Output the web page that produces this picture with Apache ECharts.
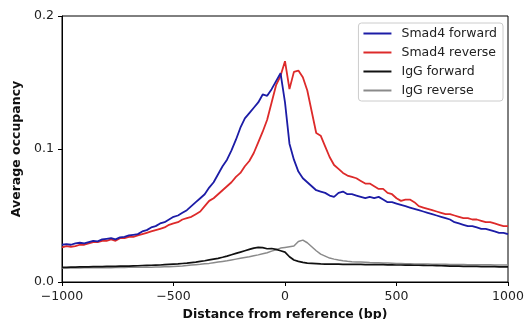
<!DOCTYPE html>
<html>
<head>
<meta charset="utf-8">
<script src="https://cdn.jsdelivr.net/npm/echarts@6/dist/echarts.min.js"></script>
<style>html,body{margin:0;padding:0;background:#fff}#c{width:525px;height:319px}</style>
</head>
<body>
<div id="c"></div>
<script>
const xValues = [-1000,-980,-960,-940,-920,-900,-880,-860,-840,-820,-800,-780,-760,-740,-720,-700,-680,-660,-640,-620,-600,-580,-560,-540,-520,-500,-480,-460,-440,-420,-400,-380,-360,-340,-320,-300,-280,-260,-240,-220,-200,-180,-160,-140,-120,-100,-80,-60,-40,-20,0,20,40,60,80,100,120,140,160,180,200,220,240,260,280,300,320,340,360,380,400,420,440,460,480,500,520,540,560,580,600,620,640,660,680,700,720,740,760,780,800,820,840,860,880,900,920,940,960,980,1000];

const smad4Forward = [0.028,0.0285,0.028,0.029,0.0295,0.029,0.030,0.031,0.0305,0.032,0.0325,
0.033,0.032,0.0335,0.034,0.035,0.0355,0.036,0.038,0.039,0.041,
0.042,0.044,0.045,0.047,0.049,0.050,0.052,0.054,0.057,0.060,
0.063,0.066,0.071,0.075,0.081,0.087,0.092,0.099,0.107,0.116,
0.123,0.127,0.131,0.135,0.141,0.140,0.145,0.151,0.157,0.135,
0.104,0.092,0.083,0.078,0.075,0.072,0.069,0.068,0.067,0.065,
0.064,0.067,0.068,0.066,0.066,0.065,0.064,0.063,0.064,0.063,
0.064,0.062,0.060,0.060,0.059,0.058,0.057,0.056,0.055,0.054,
0.053,0.052,0.051,0.050,0.049,0.048,0.047,0.045,0.044,0.043,
0.042,0.042,0.041,0.040,0.040,0.039,0.038,0.037,0.037,0.036];

const smad4Reverse = [0.026,0.027,0.0265,0.027,0.028,0.028,0.029,0.030,0.030,0.031,0.031,
0.032,0.031,0.033,0.033,0.034,0.034,0.035,0.036,0.037,0.038,
0.039,0.040,0.041,0.043,0.044,0.045,0.047,0.048,0.049,0.051,
0.053,0.057,0.061,0.063,0.066,0.069,0.072,0.075,0.079,0.082,
0.087,0.091,0.097,0.105,0.113,0.122,0.135,0.148,0.155,0.166,
0.145,0.158,0.159,0.154,0.144,0.128,0.112,0.110,0.102,0.094,
0.088,0.085,0.082,0.080,0.079,0.078,0.076,0.074,0.074,0.072,
0.070,0.070,0.067,0.066,0.063,0.061,0.062,0.062,0.060,0.057,
0.056,0.055,0.054,0.053,0.052,0.051,0.051,0.050,0.049,0.048,
0.048,0.047,0.047,0.046,0.045,0.045,0.044,0.043,0.042,0.042];

const iggForward = [0.011,0.011,0.0112,0.0112,0.0113,0.0113,0.0114,0.0115,0.0115,0.0116,0.0117,
0.0118,0.0118,0.0119,0.012,0.012,0.0121,0.0122,0.0124,0.0125,0.0126,
0.0127,0.0128,0.013,0.0132,0.0134,0.0136,0.0139,0.0142,0.0146,0.015,
0.0155,0.016,0.0166,0.0172,0.0178,0.0186,0.0195,0.0205,0.0215,0.0225,
0.0235,0.0245,0.0255,0.026,0.0258,0.025,0.0252,0.0245,0.0235,0.0225,
0.019,0.0165,0.0155,0.0147,0.0142,0.014,0.0138,0.0136,0.0135,0.0135,
0.0134,0.0134,0.0133,0.0133,0.0133,0.0132,0.0132,0.0131,0.0131,0.013,
0.013,0.013,0.0129,0.0129,0.0128,0.0128,0.0127,0.0127,0.0126,0.0126,
0.0125,0.0124,0.0124,0.0123,0.0122,0.0121,0.012,0.012,0.0119,0.0118,
0.0118,0.0117,0.0117,0.0116,0.0116,0.0115,0.0115,0.0114,0.0114,0.0113];

const iggReverse = [0.0105,0.0105,0.0106,0.0106,0.0106,0.0107,0.0107,0.0107,0.0108,0.0108,0.0108,
0.0108,0.0109,0.0109,0.0109,0.011,0.011,0.011,0.011,0.0111,0.0111,
0.0112,0.0113,0.0114,0.0115,0.0117,0.0119,0.0121,0.0124,0.0127,0.013,
0.0133,0.0137,0.014,0.0145,0.015,0.0155,0.016,0.0166,0.0172,0.0178,
0.0184,0.019,0.0197,0.0204,0.0212,0.022,0.0232,0.0243,0.0255,0.026,
0.0265,0.027,0.0305,0.0315,0.0295,0.0265,0.0235,0.021,0.0195,0.018,
0.0172,0.0165,0.016,0.0156,0.0153,0.0151,0.015,0.0148,0.0146,0.0145,
0.0144,0.0143,0.0142,0.0141,0.014,0.0139,0.0138,0.0137,0.0136,0.0136,
0.0135,0.0135,0.0134,0.0134,0.0133,0.0133,0.0132,0.0132,0.0131,0.0131,
0.013,0.013,0.013,0.0129,0.0129,0.0129,0.0128,0.0128,0.0128,0.0128];

const seriesNames = ['Smad4 forward','Smad4 reverse','IgG forward','IgG reverse'];
const seriesValues = [smad4Forward, smad4Reverse, iggForward, iggReverse];
const seriesColors = ['#1c1ca6','#dd2a2a','#111111','#8a8a8a'];
const seriesWidths = [1.8,1.8,1.7,1.5];

const font = 'DejaVu Sans';
const chart = echarts.init(document.getElementById('c'), null, {renderer:'canvas'});
chart.setOption({
  animation: false,
  grid: {left: 62, right: 17, top: 16, bottom: 37, containLabel: false, outerBoundsMode: 'none',
    show: true, borderColor: '#000', borderWidth: 1, backgroundColor: 'transparent'},
  legend: {
    orient: 'vertical', right: 22, top: 23,
    data: seriesNames,
    icon: 'rect', itemWidth: 28, itemHeight: 2, itemGap: 4,
    padding: [3, 6, 3, 5],
    borderColor: '#cccccc', borderWidth: 1, borderRadius: 3,
    backgroundColor: '#fff',
    textStyle: {fontFamily: font, fontSize: 12.5, color: '#222', padding: [0,0,0,5], lineHeight: 15}
  },
  xAxis: {
    type: 'value', min: -1000, max: 1000, interval: 500,
    name: 'Distance from reference (bp)', nameLocation: 'middle', nameGap: 25,
    nameTextStyle: {fontFamily: font, fontSize: 12.5, fontWeight: 'bold', color: '#111'},
    axisLine: {show: true, onZero: false, lineStyle: {color: '#000', width: 1}},
    axisTick: {show: true, length: 4, lineStyle: {color: '#000'}},
    axisLabel: {fontFamily: font, fontSize: 12.5, color: '#222', margin: 8,
      formatter: v => v < 0 ? '\u2212' + Math.abs(v) : String(v)},
    splitLine: {show: false}
  },
  yAxis: {
    type: 'value', min: 0, max: 0.2, interval: 0.1,
    name: 'Average occupancy', nameLocation: 'middle', nameGap: 36,
    nameTextStyle: {fontFamily: font, fontSize: 12.5, fontWeight: 'bold', color: '#111'},
    axisLine: {show: true, onZero: false, lineStyle: {color: '#000', width: 1}},
    axisTick: {show: true, length: 4, lineStyle: {color: '#000'}},
    axisLabel: {fontFamily: font, fontSize: 12.5, color: '#222', margin: 8,
      formatter: v => v.toFixed(1)},
    splitLine: {show: false}
  },
  series: seriesNames.map((n, i) => ({
    name: n, type: 'line', showSymbol: false, symbol: 'none',
    data: xValues.map((x, j) => [x, seriesValues[i][j]]),
    lineStyle: {color: seriesColors[i], width: seriesWidths[i]},
    itemStyle: {color: seriesColors[i]},
    z: 4 - i
  }))
});
</script>
</body>
</html>
